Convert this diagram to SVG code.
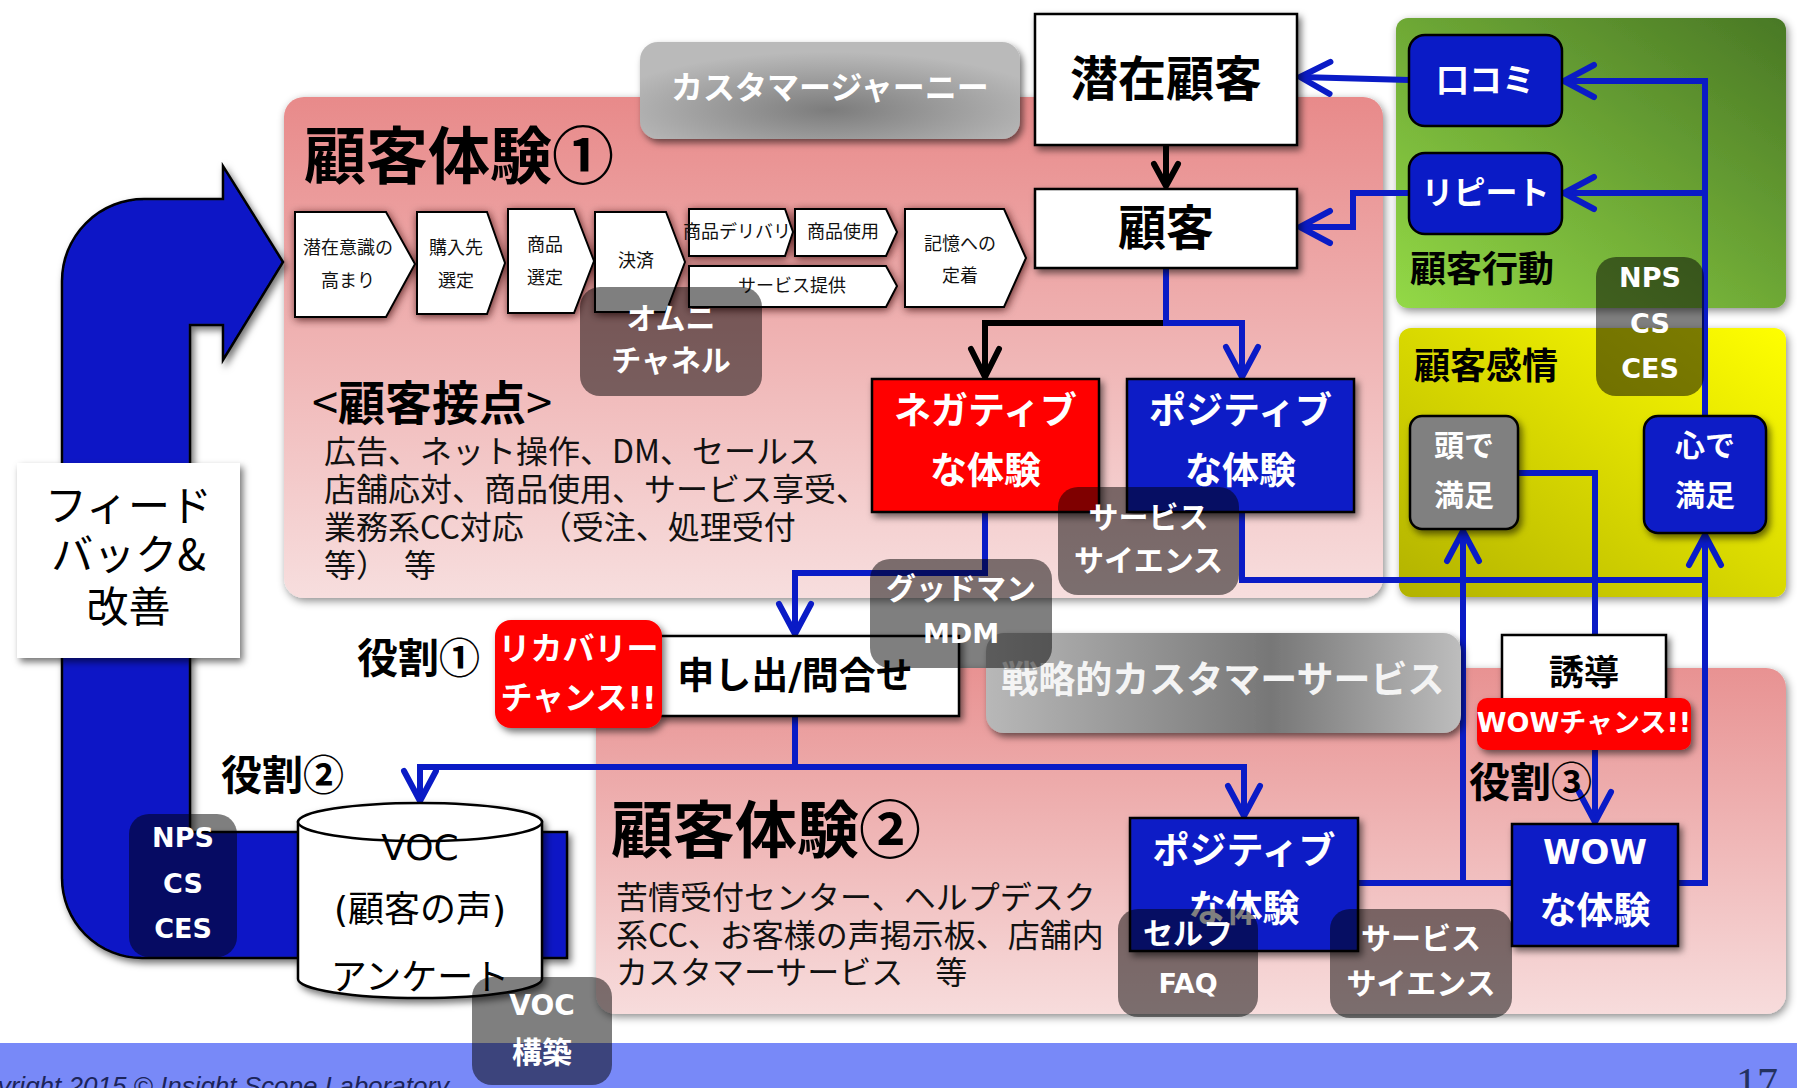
<svg xmlns="http://www.w3.org/2000/svg" width="1797" height="1088" viewBox="0 0 1797 1088">
<defs>
<style>
.jp{font-family:'Noto Sans CJK JP','Noto Sans CJK SC',sans-serif}
.lat{font-family:'DejaVu Sans','Noto Sans CJK JP',sans-serif}
.b{font-weight:bold}
.w{fill:#fff}
.k{fill:#000}
.c{text-anchor:middle}
.ln{fill:none;stroke:#0a1bc6;stroke-width:6;stroke-linejoin:miter}
.lk{fill:none;stroke:#000;stroke-width:6;stroke-linejoin:miter}
.tr{fill:#000;fill-opacity:0.5}
.bx{stroke:#000;stroke-width:2.5}
.blue{fill:#0a1bc6}
.red{fill:#ff0000}
.chev{fill:#fff;stroke:#000;stroke-width:2}
</style>
<linearGradient id="gp1" x1="0" y1="0" x2="0" y2="1"><stop offset="0" stop-color="#e88a8a"/><stop offset="1" stop-color="#f7dede"/></linearGradient>
<linearGradient id="gp2" x1="0" y1="0" x2="0" y2="1"><stop offset="0" stop-color="#e89292"/><stop offset="1" stop-color="#f7dcdc"/></linearGradient>
<linearGradient id="gg" x1="0" y1="1" x2="1" y2="0"><stop offset="0" stop-color="#93d946"/><stop offset="1" stop-color="#497825"/></linearGradient>
<linearGradient id="gy" x1="0" y1="1" x2="1" y2="0"><stop offset="0" stop-color="#b2b200"/><stop offset="1" stop-color="#ffff00"/></linearGradient>
<radialGradient id="gcj" cx="0.5" cy="0.7" r="0.6"><stop offset="0" stop-color="#7c7c7c"/><stop offset="1" stop-color="#bababa"/></radialGradient>
<linearGradient id="gst" x1="0" y1="0" x2="1" y2="0"><stop offset="0" stop-color="#b8b8b8"/><stop offset="0.6" stop-color="#777777"/><stop offset="1" stop-color="#bdbdbd"/></linearGradient>
<filter id="sh" x="-30%" y="-30%" width="160%" height="160%"><feDropShadow dx="3" dy="4" stdDeviation="3.5" flood-color="#000" flood-opacity="0.55"/></filter>
<filter id="psh" x="-10%" y="-10%" width="120%" height="125%"><feDropShadow dx="2" dy="3" stdDeviation="4" flood-color="#000" flood-opacity="0.45"/></filter>
<filter id="csh" x="-30%" y="-30%" width="160%" height="160%"><feDropShadow dx="1" dy="2" stdDeviation="4" flood-color="#300" flood-opacity="0.75"/></filter>
<marker id="ab" viewBox="-40 -24 48 48" refX="0" refY="0" markerWidth="48" markerHeight="48" markerUnits="userSpaceOnUse" orient="auto"><path d="M-30,-16 L0,0 L-30,16" fill="none" stroke="#0a1bc6" stroke-width="6" stroke-linecap="round" stroke-linejoin="round"/></marker>
<marker id="ak" viewBox="-40 -24 48 48" refX="0" refY="0" markerWidth="48" markerHeight="48" markerUnits="userSpaceOnUse" orient="auto"><path d="M-28,-14 L0,0 L-28,14" fill="none" stroke="#000" stroke-width="6" stroke-linecap="round" stroke-linejoin="round"/></marker>
<marker id="aks" viewBox="-40 -24 48 48" refX="0" refY="0" markerWidth="48" markerHeight="48" markerUnits="userSpaceOnUse" orient="auto"><path d="M-22,-12 L0,0 L-22,12" fill="none" stroke="#000" stroke-width="6" stroke-linecap="round" stroke-linejoin="round"/></marker>
</defs>
<rect width="1797" height="1088" fill="#fff"/>

<g id="footer">
<rect x="0" y="1043" width="1797" height="45" fill="#7889f8"/>
<text x="-50" y="1095" font-family="'Liberation Sans',sans-serif" font-style="italic" font-size="26" fill="#1c2459">Copyright 2015 © Insight Scope Laboratory</text>
<text x="1736" y="1097" font-family="'Liberation Serif',serif" font-size="42" fill="#24325f">17</text>
</g>

<g id="panels">
<rect id="panel-exp1" x="284" y="97" width="1099" height="501" rx="20" fill="url(#gp1)" filter="url(#psh)"/>
<rect id="panel-exp2" x="596" y="668" width="1190" height="346" rx="20" fill="url(#gp2)" filter="url(#psh)"/>
<rect id="panel-behavior" x="1396" y="18" width="390" height="290" rx="12" fill="url(#gg)" filter="url(#psh)"/>
<rect id="panel-emotion" x="1399" y="328" width="387" height="269" rx="12" fill="url(#gy)" filter="url(#psh)"/>
</g>

<g id="feedback-arrow">
<path d="M190,325 L223,325 L223,360 L283,262 L223,166 L223,199 L144,199 A82,82 0 0 0 62,281 L62,878 A80,80 0 0 0 142,958 L567,958 L567,832 L190,832 Z" fill="#0a19c6" stroke="#000" stroke-width="2.5" filter="url(#sh)"/>
</g>

<g id="labels">
<text x="304" y="179" class="jp b" font-size="62">顧客体験①</text>
<text x="312" y="420" class="jp" font-size="47">&lt;<tspan class="b">顧客接点</tspan>&gt;</text>
<text class="jp" font-size="32" fill="#111"><tspan x="324" y="463">広告、ネット操作、DM、セールス</tspan><tspan x="324" y="501">店舗応対、商品使用、サービス享受、</tspan><tspan x="324" y="539">業務系CC対応　（受注、処理受付</tspan><tspan x="324" y="577">等）　等</tspan></text>
<text x="611" y="853" class="jp b" font-size="62">顧客体験②</text>
<text class="jp" font-size="32" fill="#111"><tspan x="616" y="909">苦情受付センター、ヘルプデスク</tspan><tspan x="616" y="947">系CC、お客様の声掲示板、店舗内</tspan><tspan x="616" y="984">カスタマーサービス　等</tspan></text>
<text x="1410" y="282" class="jp b" font-size="36">顧客行動</text>
<text x="1414" y="379" class="jp b" font-size="36">顧客感情</text>
<text x="357" y="673" class="jp b" font-size="41">役割①</text>
<text x="221" y="790" class="jp b" font-size="41">役割②</text>
</g>

<g id="journey">
<rect id="journey-title" x="640" y="42" width="380" height="97" rx="18" fill="url(#gcj)" filter="url(#sh)"/>
<text x="830" y="99" class="jp b w c" font-size="32">カスタマージャーニー</text>
<g id="touchpoints" filter="url(#csh)">
<polygon class="chev" points="295,212 386,212 415,264 386,317 295,317"/>
<polygon class="chev" points="417,212 487,212 505,263 487,314 417,314"/>
<polygon class="chev" points="508,209 574,209 594,261 574,313 508,313"/>
<polygon class="chev" points="595,212 666,212 685,262 666,312 595,312"/>
<polygon class="chev" points="689,209 785,209 793,232 785,256 689,256"/>
<polygon class="chev" points="795,209 886,209 897,232 886,256 795,256"/>
<polygon class="chev" points="689,266 886,266 897,286 886,307 689,307"/>
<polygon class="chev" points="905,209 1004,209 1026,258 1004,307 905,307"/>
</g>
<g class="jp c" font-size="18" fill="#111">
<text x="348" y="254">潜在意識の</text><text x="348" y="287">高まり</text>
<text x="456" y="254">購入先</text><text x="456" y="287">選定</text>
<text x="545" y="251">商品</text><text x="545" y="284">選定</text>
<text x="636" y="267">決済</text>
<text x="737" y="238">商品デリバリ</text>
<text x="843" y="238">商品使用</text>
<text x="792" y="292">サービス提供</text>
<text x="960" y="250">記憶への</text><text x="960" y="282">定着</text>
</g>
</g>

<g id="connectors">
<path class="lk" d="M1166,145 L1166,186" marker-end="url(#aks)"/>
<path class="lk" d="M1166,323 L985,323 L985,377" marker-end="url(#ak)"/>
<path class="ln" d="M1166,268 L1166,323 L1242,323 L1242,377" marker-end="url(#ab)"/>
<path class="ln" d="M1409,80 L1300,77" marker-end="url(#ab)"/>
<path class="ln" d="M1409,193 L1353,193 L1353,227 L1300,227" marker-end="url(#ab)"/>
<path class="ln" d="M1705,416 L1705,81 L1564,81" marker-end="url(#ab)"/>
<path class="ln" d="M1705,193 L1564,193" marker-end="url(#ab)"/>
<path class="ln" d="M985,512 L985,573 L795,573 L795,634" marker-end="url(#ab)"/>
<path class="ln" d="M1242,512 L1242,580 L1705,580"/>
<path class="ln" d="M1358,883 L1705,883 L1705,535" marker-end="url(#ab)"/>
<path class="ln" d="M1463,883 L1463,531" marker-end="url(#ab)"/>
<path class="ln" d="M1518,473 L1595,473 L1595,822" marker-end="url(#ab)"/>
<path class="ln" d="M795,716 L795,767 L420,767 L420,801" marker-end="url(#ab)"/>
<path class="ln" d="M795,767 L1244,767 L1244,816" marker-end="url(#ab)"/>
</g>

<g id="nodes">
<g id="feedback"><rect x="17" y="463" width="223" height="195" fill="#fff" filter="url(#sh)"/>
<text class="jp c" font-size="42" x="128.5"><tspan x="128.5" y="521">フィード</tspan><tspan x="128.5" y="570">バック&amp;</tspan><tspan x="128.5" y="622">改善</tspan></text></g>

<g id="prospect"><rect x="1035" y="14" width="262" height="131" fill="#fff" class="bx" filter="url(#sh)"/><text x="1166" y="96" class="jp b c" font-size="48">潜在顧客</text></g>
<g id="customer"><rect x="1035" y="189" width="262" height="79" fill="#fff" class="bx" filter="url(#sh)"/><text x="1166" y="245" class="jp b c" font-size="48">顧客</text></g>
<g id="word-of-mouth"><rect x="1409" y="35" width="153" height="91" rx="16" class="blue bx"/><text x="1485.5" y="92" class="jp b w c" font-size="33">口コミ</text></g>
<g id="repeat"><rect x="1409" y="153" width="153" height="81" rx="16" class="blue bx"/><text x="1485.5" y="204" class="jp b w c" font-size="32">リピート</text></g>
<g id="negative1"><rect x="872" y="379" width="227" height="133" class="red bx" filter="url(#sh)"/><text class="jp b w c" font-size="37"><tspan x="985.5" y="424">ネガティブ</tspan><tspan x="985.5" y="484">な体験</tspan></text></g>
<g id="positive1"><rect x="1127" y="379" width="227" height="133" class="blue bx" filter="url(#sh)"/><text class="jp b w c" font-size="37"><tspan x="1240.5" y="424">ポジティブ</tspan><tspan x="1240.5" y="484">な体験</tspan></text></g>
<g id="head-satisfied"><rect x="1410" y="416" width="108" height="113" rx="12" fill="#808080" class="bx" filter="url(#sh)"/><text class="jp b w c" font-size="30"><tspan x="1464" y="456">頭で</tspan><tspan x="1464" y="506">満足</tspan></text></g>
<g id="heart-satisfied"><rect x="1644" y="416" width="122" height="117" rx="14" class="blue bx" filter="url(#sh)"/><text class="jp b w c" font-size="30"><tspan x="1705" y="456">心で</tspan><tspan x="1705" y="506">満足</tspan></text></g>
<g id="inquiry"><rect x="659" y="636" width="300" height="80" fill="#fff" class="bx" filter="url(#sh)"/><text x="795" y="689" class="lat b c" font-size="37"><tspan class="jp">申し出</tspan>/<tspan class="jp">問合せ</tspan></text></g>
<g id="recovery"><rect x="495" y="620" width="167" height="108" rx="16" class="red" filter="url(#sh)"/><text class="lat b w c" font-size="32"><tspan x="578.5" y="660" class="jp">リカバリー</tspan><tspan x="578.5" y="709"><tspan class="jp">チャンス</tspan>!!</tspan></text></g>
<g id="strategic-cs"><rect x="986" y="633" width="475" height="100" rx="18" fill="url(#gst)" filter="url(#sh)"/><text x="1223" y="693" class="jp b c" font-size="37" fill="#f4f4f4">戦略的カスタマーサービス</text></g>
<g id="guidance"><rect x="1502" y="635" width="164" height="75" fill="#fff" class="bx" filter="url(#sh)"/><text x="1584" y="685" class="jp b c" font-size="35">誘導</text></g>
<g id="wow-chance"><rect x="1477" y="698" width="214" height="52" rx="10" class="red" filter="url(#sh)"/><text x="1584" y="732" class="lat b w c" font-size="27">WOW<tspan class="jp">チャンス</tspan>!!</text></g>
<g id="role3"><text x="1469" y="797" class="jp b" font-size="41">役割③</text></g>
<g id="positive2"><rect x="1130" y="818" width="228" height="133" class="blue bx" filter="url(#sh)"/><text class="jp b w c" font-size="37"><tspan x="1244" y="864">ポジティブ</tspan><tspan x="1244" y="922">な体験</tspan></text></g>
<g id="wow"><rect x="1512" y="824" width="166" height="122" class="blue bx" filter="url(#sh)"/><text x="1595" y="864" class="lat b w c" font-size="34">WOW</text><text x="1595" y="924" class="jp b w c" font-size="37">な体験</text></g>
<g id="voc"><g filter="url(#sh)"><path d="M298,822 L298,979 A122,19 0 0 0 542,979 L542,822 Z" fill="#fff" stroke="#000" stroke-width="2.5"/><ellipse cx="420" cy="822" rx="122" ry="19" fill="#fff" stroke="#000" stroke-width="2.5"/></g>
<text x="420" y="860" class="lat c" font-size="36">VOC</text>
<text x="420" y="922" class="lat c" font-size="36">(<tspan class="jp">顧客の声</tspan>)</text>
<text x="420" y="990" class="jp c" font-size="36">アンケート</text></g>
</g>

<g id="overlays">
<g id="omni"><rect x="580" y="287" width="182" height="109" rx="20" class="tr"/><text class="jp b w c" font-size="30"><tspan x="671" y="329">オムニ</tspan><tspan x="671" y="371">チャネル</tspan></text></g>
<g id="service-science1"><rect x="1058" y="487" width="181" height="108" rx="20" class="tr"/><text class="jp b w c" font-size="30"><tspan x="1148.5" y="528">サービス</tspan><tspan x="1148.5" y="571">サイエンス</tspan></text></g>
<g id="goodman"><rect x="870" y="559" width="182" height="109" rx="20" class="tr"/><text x="961" y="599" class="jp b w c" font-size="30">グッドマン</text><text x="961" y="643" class="lat b w c" font-size="27">MDM</text></g>
<g id="metrics1"><rect x="1596" y="257" width="108" height="139" rx="20" class="tr"/><g class="lat b w c" font-size="27"><text x="1650" y="287">NPS</text><text x="1650" y="333">CS</text><text x="1650" y="378">CES</text></g></g>
<g id="metrics2"><rect x="129" y="814" width="108" height="143" rx="20" class="tr"/><g class="lat b w c" font-size="27"><text x="183" y="847">NPS</text><text x="183" y="893">CS</text><text x="183" y="938">CES</text></g></g>
<g id="voc-build"><rect x="472" y="977" width="140" height="108" rx="20" class="tr"/><text x="542" y="1015" class="lat b w c" font-size="28">VOC</text><text x="542" y="1063" class="jp b w c" font-size="30">構築</text></g>
<g id="self-faq"><rect x="1118" y="909" width="140" height="108" rx="20" class="tr"/><text x="1188" y="944" class="jp b w c" font-size="30">セルフ</text><text x="1188" y="993" class="lat b w c" font-size="27">FAQ</text></g>
<g id="service-science2"><rect x="1330" y="909" width="182" height="109" rx="20" class="tr"/><text class="jp b w c" font-size="30"><tspan x="1421" y="949">サービス</tspan><tspan x="1421" y="994">サイエンス</tspan></text></g>
</g>
</svg>
